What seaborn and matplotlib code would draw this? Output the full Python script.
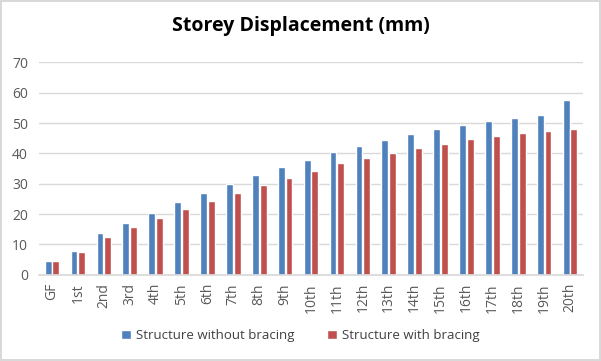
import matplotlib
matplotlib.use("Agg")
import matplotlib.pyplot as plt
import seaborn as sns
import pandas as pd

storeys = ["GF", "1st", "2nd", "3rd", "4th", "5th", "6th", "7th", "8th", "9th", "10th",
           "11th", "12th", "13th", "14th", "15th", "16th", "17th", "18th", "19th", "20th"]
without_bracing = [4.6, 7.9, 13.8, 17.1, 20.4, 24.0, 27.0, 30.0, 32.9, 35.5, 37.9,
                   40.4, 42.4, 44.5, 46.5, 48.1, 49.3, 50.8, 51.7, 52.7, 57.7]
with_bracing = [4.6, 7.5, 12.4, 15.8, 18.8, 21.8, 24.4, 27.0, 29.7, 32.0, 34.3,
                36.8, 38.6, 40.1, 41.9, 43.2, 44.8, 45.8, 46.8, 47.5, 48.1]
series = ["Structure without bracing", "Structure with bracing"]

df = pd.DataFrame({
    "storey": storeys * 2,
    "disp": without_bracing + with_bracing,
    "series": [series[0]] * len(storeys) + [series[1]] * len(storeys),
})

sns.set_theme(style="white")
plt.rcParams["font.family"] = ["Open Sans", "DejaVu Sans"]

fig = plt.figure(figsize=(6.01, 3.61), dpi=100)
fig.patch.set_edgecolor("#D9D9D9")
fig.patch.set_linewidth(1.5)
ax = fig.add_axes([0.065, 0.239, 0.905, 0.588])

sns.barplot(data=df, x="storey", y="disp", hue="series", order=storeys,
            palette=["#4F81BD", "#C0504D"], width=0.6, gap=0.12,
            saturation=1, ax=ax, legend=True)

ax.set_ylim(0, 70)
ax.set_yticks(range(0, 71, 10))
ax.yaxis.grid(True, color="#D9D9D9", linewidth=1)
ax.set_axisbelow(True)
for s in ["top", "right", "left"]:
    ax.spines[s].set_visible(False)
ax.spines["bottom"].set_color("#D9D9D9")
ax.tick_params(axis="both", length=0, colors="#595959", labelsize=10)
ax.tick_params(axis="x", rotation=90, pad=6)
ax.tick_params(axis="y", pad=8)
ax.set_xlabel("")
ax.set_ylabel("")

fig.suptitle("Storey Displacement (mm)", x=0.5, y=0.955, fontsize=14, fontweight="bold",
             color="#000000")

handles, labels = ax.get_legend_handles_labels()
ax.get_legend().remove()
fig.legend(handles, labels, loc="center", bbox_to_anchor=(0.5, 0.07), ncol=2,
           frameon=False, fontsize=9.5, handlelength=0.7, handleheight=0.7,
           columnspacing=2.5, handletextpad=0.4, labelcolor="#404040")

fig.savefig("out.png", dpi=100, edgecolor=fig.get_edgecolor())
